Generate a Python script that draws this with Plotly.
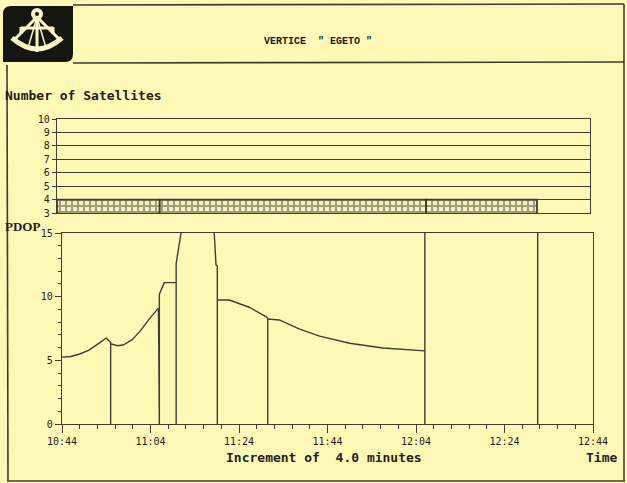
import pandas as pd
import plotly.graph_objects as go

DAY = "2000-01-01 "

# ---------------- data ----------------
# Number of satellites (bar segments)
sat_seg_start = ["10:44:00", "11:07:00", "12:06:40"]
sat_seg_end = ["11:07:00", "12:06:40", "12:31:30"]
sat_count = [4, 4, 4]
sat_y_ticks = [3, 4, 5, 6, 7, 8, 9, 10]

# PDOP trace (values above 15 are off the chart)
pdop_time = [
    "10:44:00", "10:46:00", "10:48:00", "10:50:06", "10:52:24", "10:54:00",
    "10:55:00", "10:55:00", "10:55:00", "10:56:30", "10:57:48", "10:59:48",
    "11:01:48", "11:03:36", "11:05:30", "11:05:48", "11:06:00", "11:06:00",
    "11:07:06", "11:09:24", "11:09:48", "11:09:48", "11:09:48", "11:10:54",
    "11:11:12", "11:17:54", "11:18:24", "11:18:48", "11:19:06", "11:19:06",
    "11:19:06", "11:21:48", "11:26:18", "11:30:06", "11:30:30", "11:30:30",
    "11:30:30", "11:33:06", "11:37:42", "11:42:12", "11:49:00", "11:56:30",
    "12:05:18", "12:06:00", "12:06:00", "12:06:00", "12:31:30", "12:31:30",
]
pdop_value = [
    5.25, 5.30, 5.50, 5.80, 6.35, 6.75,
    6.40, 0.0, 6.30, 6.15, 6.20, 6.60,
    7.35, 8.20, 8.95, 9.10, 0.0, 10.20,
    11.10, 11.10, 11.10, 0.0, 12.60, 15.00,
    16.00, 16.00, 15.00, 12.50, 12.40, 0.0,
    9.75, 9.74, 9.17, 8.43, 8.30, 0.0,
    8.25, 8.17, 7.45, 6.90, 6.34, 5.97,
    5.76, 5.75, 0.0, 16.00, 16.00, 0.0,
]

x_tick_labels = ["10:44", "11:04", "11:24", "11:44", "12:04", "12:24", "12:44"]
pdop_y_ticks = [0, 5, 10, 15]

# ---------------- helpers ----------------
W, H = 627, 483
BG = "#FDF8B6"
INK = "#3f3d35"
TXT = "#1f1e1a"
CREAM = "#FBF5C4"
MONO = "DejaVu Sans Mono"


def fx(px):
    return px / W


def fy(py):
    return 1 - py / H


def P(x, y):
    return f"{fx(x):.5f},{fy(y):.5f}"


def ts(s):
    return pd.Timestamp(DAY + s)


seg_s = [ts(s) for s in sat_seg_start]
seg_e = [ts(s) for s in sat_seg_end]
bar_x = [a + (b - a) / 2 for a, b in zip(seg_s, seg_e)]
bar_w = [(b - a).total_seconds() * 1000 for a, b in zip(seg_s, seg_e)]

fig = go.Figure()

fig.add_trace(go.Bar(
    x=bar_x, y=sat_count, width=bar_w,
    xaxis="x", yaxis="y",
    marker=dict(color=BG, line=dict(color=INK, width=1.8),
                pattern=dict(shape="+", fgcolor="#4a4838", bgcolor="#F8F2BC",
                             size=6, solidity=0.55)),
    showlegend=False, hoverinfo="skip",
))

fig.add_trace(go.Scatter(
    x=[ts(t) for t in pdop_time], y=pdop_value,
    xaxis="x2", yaxis="y2", mode="lines",
    line=dict(color=INK, width=1.4),
    showlegend=False, hoverinfo="skip",
))

tick_font = dict(family=MONO, size=10, color=TXT)

fig.update_layout(
    width=W, height=H, autosize=False,
    margin=dict(l=0, r=0, t=0, b=0, pad=0, autoexpand=False),
    paper_bgcolor=BG, plot_bgcolor=BG,
    xaxis=dict(
        domain=[fx(57), fx(590)], anchor="y", automargin=False,
        range=[ts("10:44:00"), ts("12:43:22")],
        showticklabels=False, ticks="", showgrid=False, zeroline=False,
        showline=True, mirror=True, linecolor=INK, linewidth=1.4,
    ),
    yaxis=dict(
        domain=[fy(213), fy(119)], anchor="x", automargin=False,
        range=[3, 10], tickmode="array", tickvals=sat_y_ticks,
        ticktext=[str(v) for v in sat_y_ticks],
        ticks="outside", ticklen=4, tickcolor=INK, tickfont=tick_font,
        showgrid=True, gridcolor=INK, gridwidth=1, zeroline=False,
        showline=True, mirror=True, linecolor=INK, linewidth=1.4,
    ),
    xaxis2=dict(
        domain=[fx(62), fx(593)], anchor="y2", automargin=False,
        range=[ts("10:44:00"), ts("12:44:00")],
        tickmode="array", tickvals=[ts(t + ":00") for t in x_tick_labels],
        ticktext=x_tick_labels,
        ticks="outside", ticklen=8, tickcolor=INK, tickfont=tick_font,
        minor=dict(dtick=4 * 60 * 1000, tick0=ts("10:44:00"), ticks="outside",
                   ticklen=4, tickcolor=INK, showgrid=False),
        showgrid=False, zeroline=False,
        showline=True, mirror=True, linecolor=INK, linewidth=1.4,
    ),
    yaxis2=dict(
        domain=[fy(424), fy(233)], anchor="x2", automargin=False,
        range=[0, 15], tickmode="array", tickvals=pdop_y_ticks,
        ticktext=[str(v) for v in pdop_y_ticks],
        ticks="outside", ticklen=6, tickcolor=INK, tickfont=tick_font,
        minor=dict(dtick=1, ticks="outside", ticklen=3, tickcolor=INK,
                   showgrid=False),
        showgrid=False, zeroline=False,
        showline=True, mirror=True, linecolor=INK, linewidth=1.4,
    ),
)

# ---------------- texts ----------------
ann = [
    dict(text="<b>VERTICE\u00a0\u00a0\"\u00a0EGETO\u00a0\"</b>", x=fx(318), y=fy(42),
         font=dict(family="Liberation Mono", size=10, color=TXT),
         xanchor="center", yanchor="middle"),
    dict(text="<b>Number of Satellites</b>", x=fx(3), y=fy(95),
         font=dict(family=MONO, size=13, color=TXT),
         xanchor="left", yanchor="middle"),
    dict(text="<b>PDOP</b>", x=fx(3), y=fy(227),
         font=dict(family="Liberation Serif", size=13, color=TXT),
         xanchor="left", yanchor="middle"),
    dict(text="<b>Increment of\u00a0\u00a04.0 minutes</b>", x=fx(324), y=fy(457),
         font=dict(family=MONO, size=13, color=TXT),
         xanchor="center", yanchor="middle"),
    dict(text="<b>Time</b>", x=fx(601), y=fy(457),
         font=dict(family=MONO, size=13, color=TXT),
         xanchor="center", yanchor="middle"),
]
for a in ann:
    a.update(xref="paper", yref="paper", showarrow=False)
fig.update_layout(annotations=ann)

# ---------------- frame & logo ----------------
shapes = []
frame = dict(color="#3c3a33", width=1.6)
shapes.append(dict(type="line", xref="paper", yref="paper",
                   x0=fx(7), y0=fy(65), x1=fx(8), y1=fy(481), line=frame))
shapes.append(dict(type="line", xref="paper", yref="paper",
                   x0=fx(7), y0=fy(481), x1=fx(625), y1=fy(481), line=frame))
shapes.append(dict(type="line", xref="paper", yref="paper",
                   x0=fx(624), y0=fy(4), x1=fx(624), y1=fy(481), line=frame))
shapes.append(dict(type="line", xref="paper", yref="paper",
                   x0=fx(73), y0=fy(5), x1=fx(624), y1=fy(4), line=frame))
shapes.append(dict(type="line", xref="paper", yref="paper",
                   x0=fx(73), y0=fy(63), x1=fx(624), y1=fy(62), line=frame))

# logo block
logo = (f"M {P(11,6)} L {P(73,6)} L {P(73,54)} Q {P(73,62)} {P(65,62)} "
        f"L {P(3,62)} L {P(3,14)} Q {P(3,6)} {P(11,6)} Z")
shapes.append(dict(type="path", xref="paper", yref="paper", path=logo,
                   fillcolor="#151512", line=dict(width=0)))
cl = dict(color=CREAM, width=3)
shapes.append(dict(type="path", xref="paper", yref="paper",
                   path=f"M {P(12,38)} Q {P(37,60)} {P(62,38)}",
                   line=dict(color=CREAM, width=5)))
for (a, b) in [((37, 17), (14, 40)), ((37, 17), (60, 40)), ((37, 17), (37, 52)),
               ((21, 28), (53, 28)), ((21, 27), (21, 34)), ((53, 27), (53, 34))]:
    shapes.append(dict(type="line", xref="paper", yref="paper",
                       x0=fx(a[0]), y0=fy(a[1]), x1=fx(b[0]), y1=fy(b[1]), line=cl))
for (a, b) in [((37, 17), (28, 48)), ((37, 17), (46, 48))]:
    shapes.append(dict(type="line", xref="paper", yref="paper",
                       x0=fx(a[0]), y0=fy(a[1]), x1=fx(b[0]), y1=fy(b[1]),
                       line=dict(color=CREAM, width=1.5)))
shapes.append(dict(type="circle", xref="paper", yref="paper",
                   x0=fx(31), y0=fy(20), x1=fx(43), y1=fy(8),
                   fillcolor=CREAM, line=dict(width=0)))
shapes.append(dict(type="circle", xref="paper", yref="paper",
                   x0=fx(35), y0=fy(16), x1=fx(39), y1=fy(12),
                   fillcolor="#151512", line=dict(width=0)))
fig.update_layout(shapes=shapes)

fig.write_html("out.html")
